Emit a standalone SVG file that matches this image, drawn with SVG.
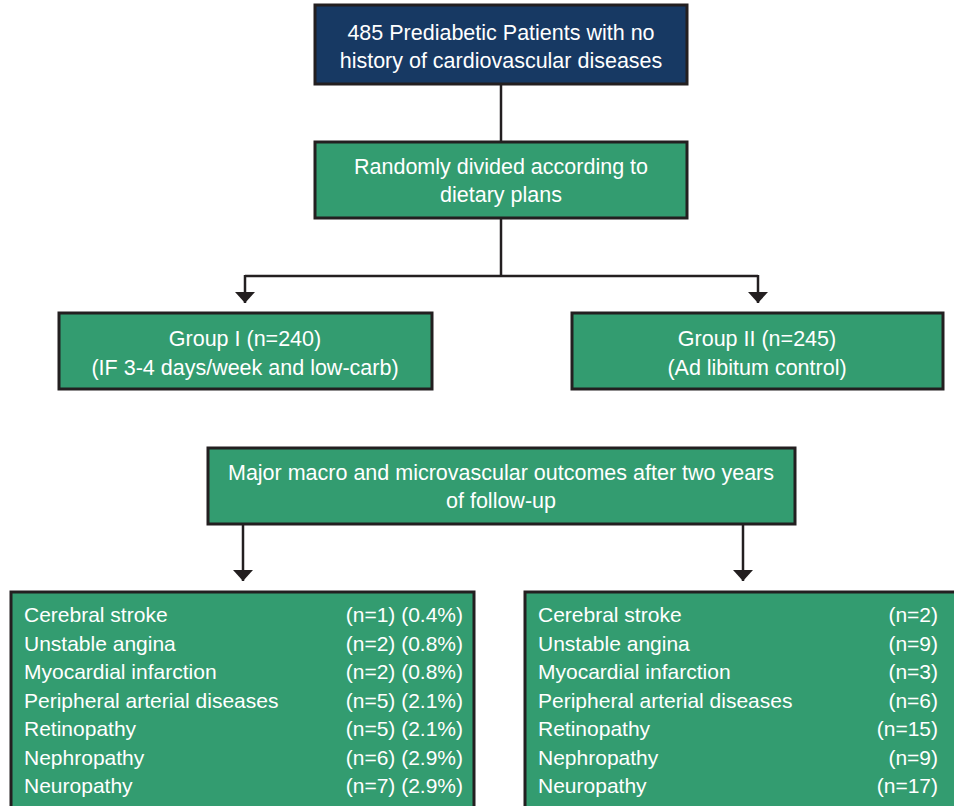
<svg xmlns="http://www.w3.org/2000/svg" width="954" height="806" viewBox="0 0 954 806">
<style>
.box{fill:#339c70;stroke:#231f20;stroke-width:3}
.navy{fill:#173963;stroke:#231f20;stroke-width:3}
.t{font-family:"Liberation Sans",Arial,sans-serif;font-size:21px;fill:#ffffff}
.h{font-size:21.5px}
.c{text-anchor:middle}
.r{text-anchor:end}
.ln{fill:none;stroke:#231f20;stroke-width:2.5}
</style>
<defs>
<marker id="ah" viewBox="0 0 11 20" refX="11" refY="10" markerUnits="userSpaceOnUse" markerWidth="11" markerHeight="20" orient="auto">
<path d="M0,0 L11,10 L0,20 z" fill="#231f20"/>
</marker>
</defs>
<rect width="954" height="806" fill="#ffffff"/>
<g id="connectors">
<path class="ln" d="M501,84 V142"/>
<path class="ln" d="M501,218 V276"/>
<path class="ln" d="M245,276 H758"/>
<path class="ln" d="M245,275 V303" marker-end="url(#ah)"/>
<path class="ln" d="M758,275 V303" marker-end="url(#ah)"/>
<path class="ln" d="M243,524 V581" marker-end="url(#ah)"/>
<path class="ln" d="M743,524 V581" marker-end="url(#ah)"/>
</g>
<g id="patients">
<rect class="navy" x="315" y="5" width="372" height="79"/>
<text class="t h c" x="501" y="40">485 Prediabetic Patients with no</text>
<text class="t h c" x="501" y="68">history of cardiovascular diseases</text>
</g>
<g id="randomized">
<rect class="box" x="315" y="142" width="372" height="76"/>
<text class="t h c" x="501" y="174">Randomly divided according to</text>
<text class="t h c" x="501" y="202">dietary plans</text>
</g>
<g id="group1">
<rect class="box" x="59" y="313" width="373" height="76"/>
<text class="t h c" x="245" y="346">Group I (n=240)</text>
<text class="t h c" x="245" y="375">(IF 3-4 days/week and low-carb)</text>
</g>
<g id="group2">
<rect class="box" x="572" y="313" width="371" height="76"/>
<text class="t h c" x="757" y="346">Group II (n=245)</text>
<text class="t h c" x="757" y="375">(Ad libitum control)</text>
</g>
<g id="outcomes">
<rect class="box" x="208" y="448" width="587" height="76"/>
<text class="t h c" x="501" y="480">Major macro and microvascular outcomes after two years</text>
<text class="t h c" x="501" y="508">of follow-up</text>
</g>
<g id="results1">
<rect class="box" x="11" y="592" width="463" height="230"/>
<text class="t" x="24" y="622">Cerebral stroke</text>
<text class="t" x="24" y="650.5">Unstable angina</text>
<text class="t" x="24" y="679">Myocardial infarction</text>
<text class="t" x="24" y="707.5">Peripheral arterial diseases</text>
<text class="t" x="24" y="736">Retinopathy</text>
<text class="t" x="24" y="764.5">Nephropathy</text>
<text class="t" x="24" y="793">Neuropathy</text>
<text class="t r" x="463" y="622">(n=1) (0.4%)</text>
<text class="t r" x="463" y="650.5">(n=2) (0.8%)</text>
<text class="t r" x="463" y="679">(n=2) (0.8%)</text>
<text class="t r" x="463" y="707.5">(n=5) (2.1%)</text>
<text class="t r" x="463" y="736">(n=5) (2.1%)</text>
<text class="t r" x="463" y="764.5">(n=6) (2.9%)</text>
<text class="t r" x="463" y="793">(n=7) (2.9%)</text>
</g>
<g id="results2">
<rect class="box" x="525" y="592" width="440" height="230"/>
<text class="t" x="538" y="622">Cerebral stroke</text>
<text class="t" x="538" y="650.5">Unstable angina</text>
<text class="t" x="538" y="679">Myocardial infarction</text>
<text class="t" x="538" y="707.5">Peripheral arterial diseases</text>
<text class="t" x="538" y="736">Retinopathy</text>
<text class="t" x="538" y="764.5">Nephropathy</text>
<text class="t" x="538" y="793">Neuropathy</text>
<text class="t r" x="938" y="622">(n=2)</text>
<text class="t r" x="938" y="650.5">(n=9)</text>
<text class="t r" x="938" y="679">(n=3)</text>
<text class="t r" x="938" y="707.5">(n=6)</text>
<text class="t r" x="938" y="736">(n=15)</text>
<text class="t r" x="938" y="764.5">(n=9)</text>
<text class="t r" x="938" y="793">(n=17)</text>
</g>
</svg>
